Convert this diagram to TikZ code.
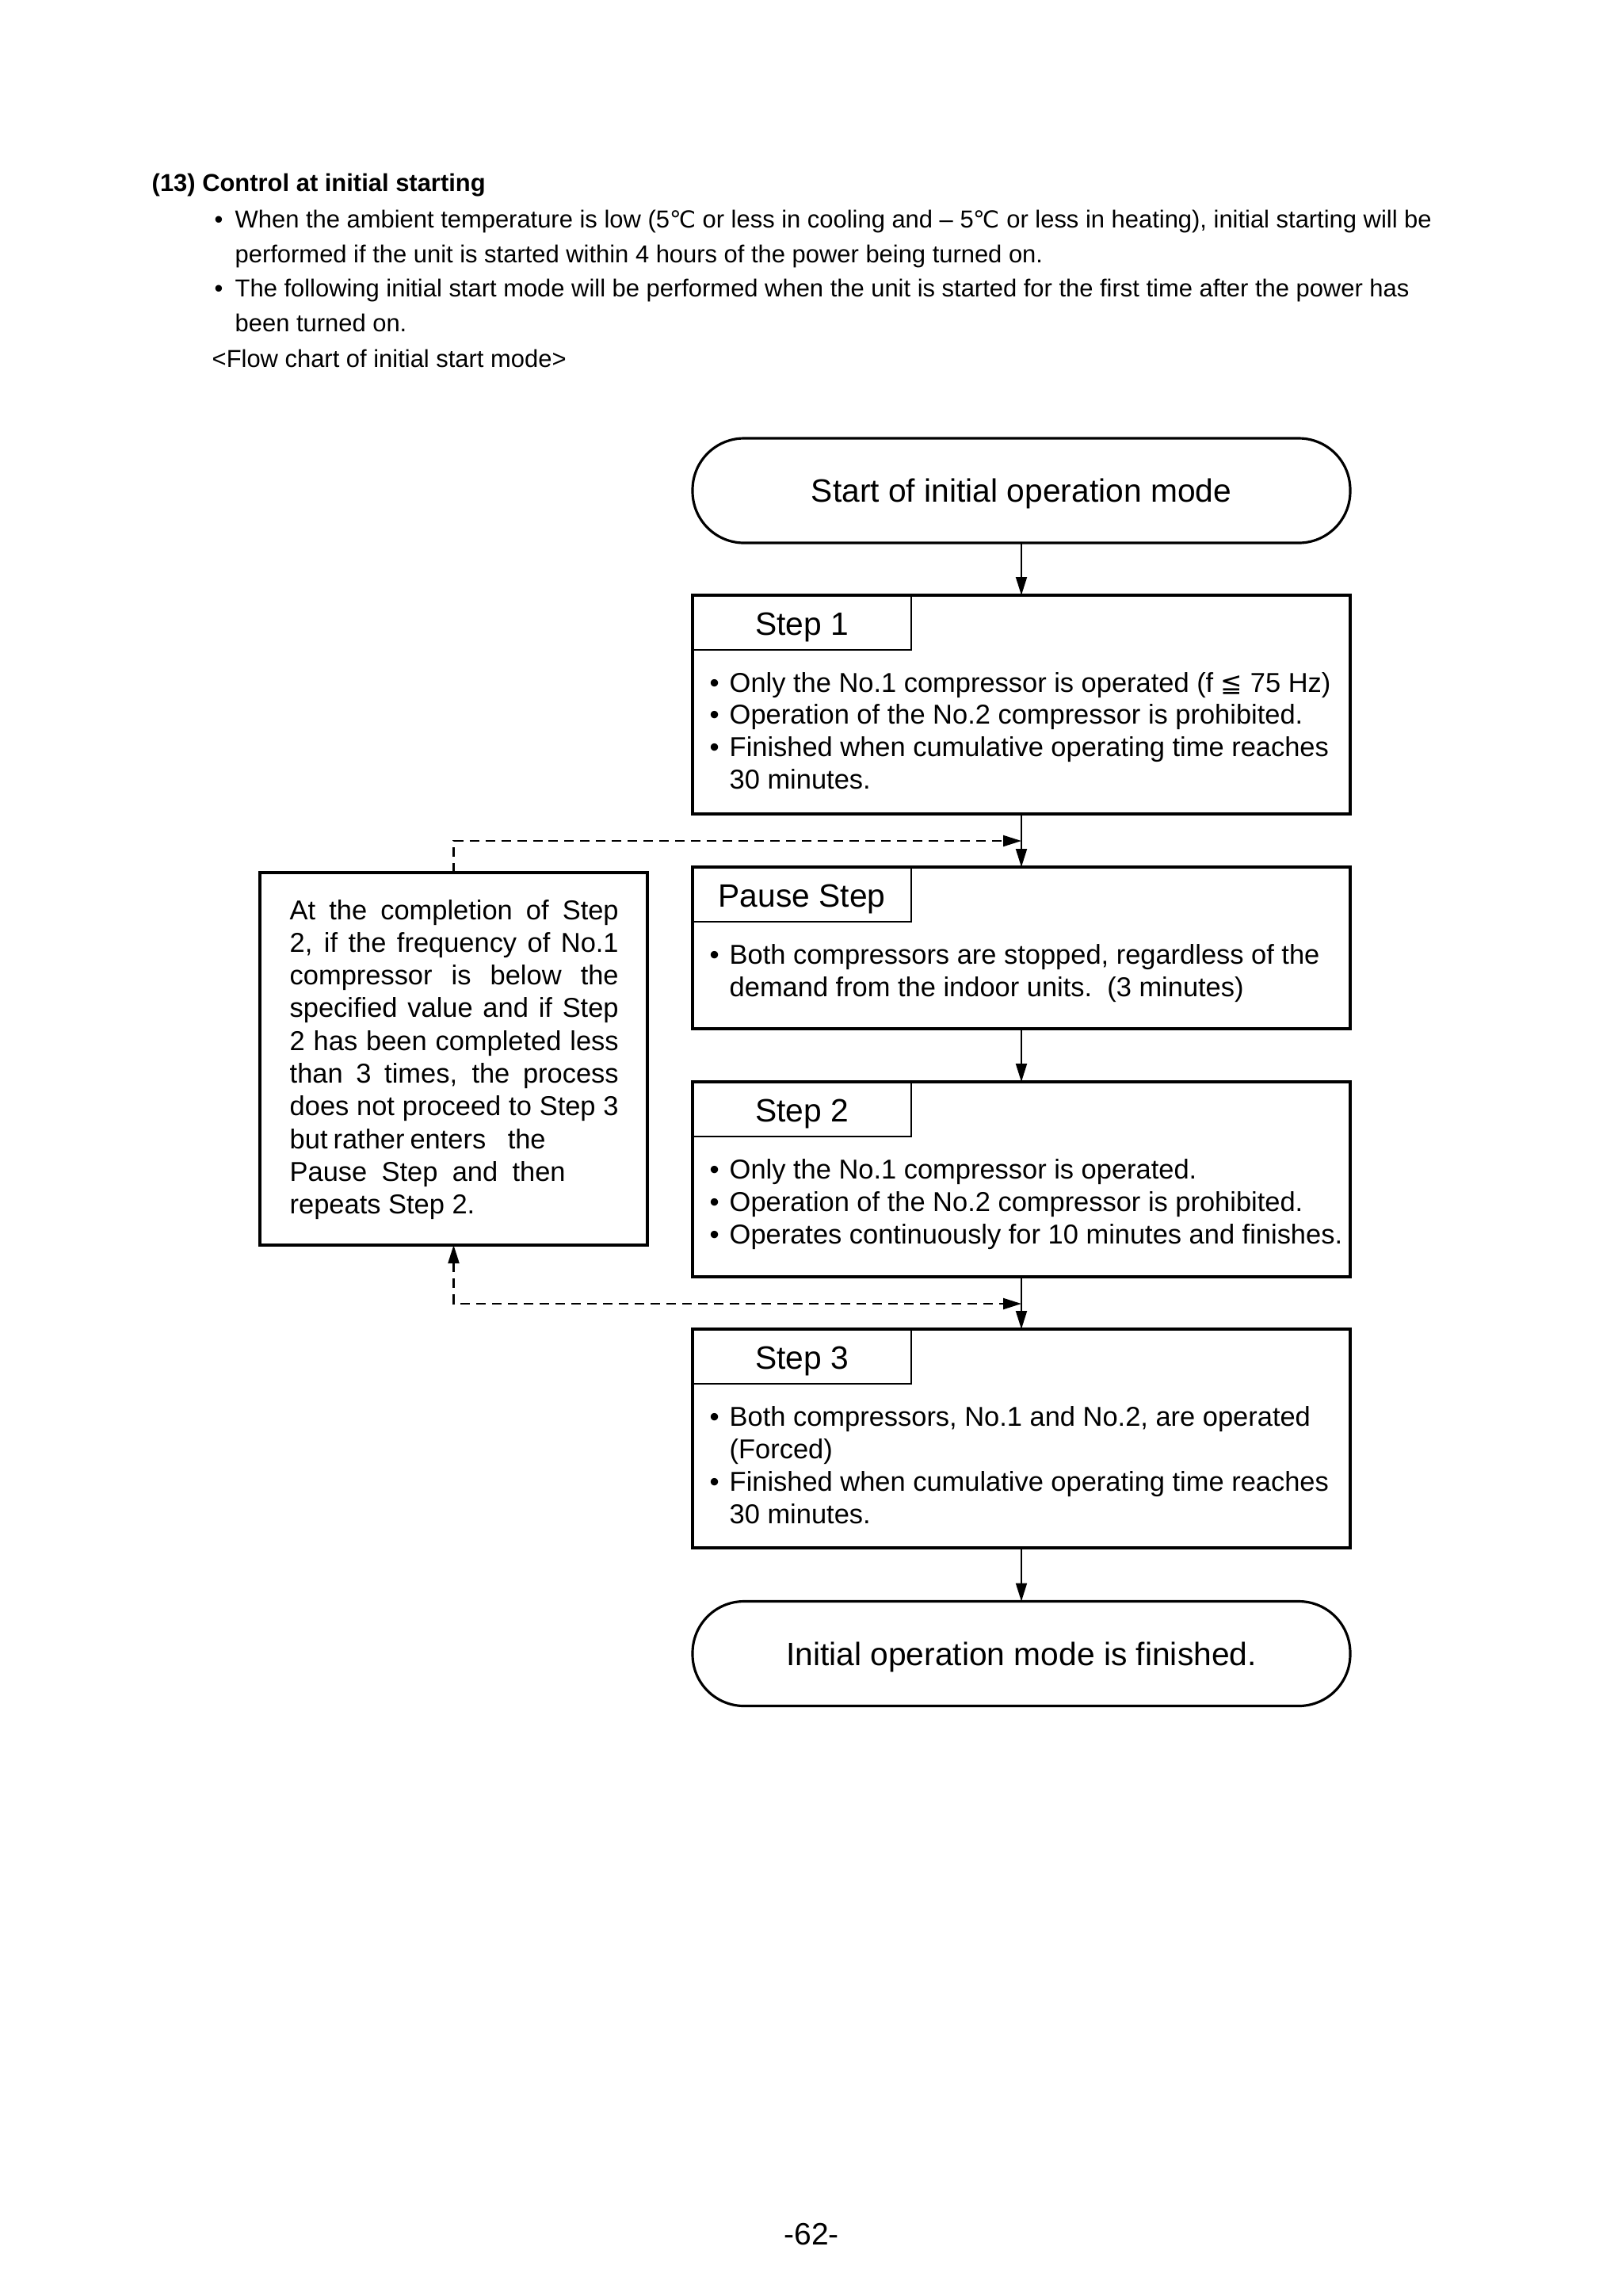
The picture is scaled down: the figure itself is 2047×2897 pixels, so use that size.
\documentclass[tikz,border=0pt]{standalone}
\usepackage{fontspec}
\setmainfont{Liberation Sans}
\newfontfamily\symf{DejaVu Sans}[Scale=0.95]
\usetikzlibrary{arrows.meta}
\begin{document}
\begin{tikzpicture}[x=0.1mm,y=-0.1mm,
  hdr/.style={font=\fontsize{8.8}{10}\selectfont, inner sep=0, anchor=base west},
  hdrb/.style={font=\fontsize{8.8}{10}\selectfont\bfseries, inner sep=0, anchor=base west},
  body/.style={font=\fontsize{9.8}{11}\selectfont, inner sep=0, anchor=base west},
  box/.style={draw, line width=0.9pt, minimum width=83mm, inner sep=0, outer sep=0},
  lab/.style={draw, line width=0.55pt, minimum width=27.6mm, minimum height=6.9mm, inner sep=0, outer sep=0,
    text height=3.1mm, text depth=0mm, font=\fontsize{11.6}{13}\selectfont, anchor=north west},
  term/.style={draw, line width=0.9pt, rounded corners=6.5mm, minimum width=83mm, minimum height=13.2mm,
    inner sep=0, outer sep=0, text height=2.9mm, text depth=0mm, font=\fontsize{11.6}{13}\selectfont},
  arr/.style={line width=0.55pt, -{Triangle[length=2.3mm,width=1.4mm]}},
  darr/.style={line width=0.6pt, dash pattern=on 1.2mm off 0.8mm},
  pg/.style={font=\fontsize{11.1}{13}\selectfont, inner sep=0, anchor=base}
]
\fill[white] (0,0) rectangle (2047,2897);
\useasboundingbox (0,0) rectangle (2047,2897);

\newcommand\bul[3]{\node[body] (#1b) at (895,#2) {•}; \node[body] (#1) at (920,#2) {#3};}
\newcommand\cont[3]{\node[body] (#1) at (920,#2) {#3};}

% header
\node[hdrb] (title) at (191,241) {(13) Control at initial starting};
\node[hdr] (h1b) at (270,287) {•};
\node[hdr] (h1) at (296,287) {When the ambient temperature is low (5{\symf ℃} or less in cooling and – 5{\symf ℃} or less in heating), initial starting will be};
\node[hdr] (h2) at (296,331) {performed if the unit is started within 4 hours of the power being turned on.};
\node[hdr] (h3b) at (270,374) {•};
\node[hdr] (h3) at (296,374) {The following initial start mode will be performed when the unit is started for the first time after the power has};
\node[hdr] (h4) at (296,418) {been turned on.};
\node[hdr] (h5) at (267,463) {<Flow chart of initial start mode>};

% flowchart boxes
\node[term] (t1) at (1289,619) {Start of initial operation mode};

\node[box, minimum height=27.6mm] (s1) at (1289,889) {};
\node[lab] (s1l) at (s1.north west) {Step 1};
\bul{s1a}{873}{Only the No.1 compressor is operated (f {\symf ≦} 75 Hz)}
\bul{s1c}{913.7}{Operation of the No.2 compressor is prohibited.}
\bul{s1d}{954.4}{Finished when cumulative operating time reaches}
\cont{s1e}{995.1}{30 minutes.}

\node[box, minimum height=20.4mm] (ps) at (1289,1196) {};
\node[lab] (psl) at (ps.north west) {Pause Step};
\bul{psa}{1216}{Both compressors are stopped, regardless of the}
\cont{psc}{1257}{demand from the indoor units.\ \ (3 minutes)}

\node[box, minimum height=24.6mm] (s2) at (1289,1488) {};
\node[lab] (s2l) at (s2.north west) {Step 2};
\bul{s2a}{1487}{Only the No.1 compressor is operated.}
\bul{s2c}{1528}{Operation of the No.2 compressor is prohibited.}
\bul{s2d}{1569}{Operates continuously for 10 minutes and finishes.}

\node[box, minimum height=27.6mm] (s3) at (1289,1815) {};
\node[lab] (s3l) at (s3.north west) {Step 3};
\bul{s3a}{1799}{Both compressors, No.1 and No.2, are operated}
\cont{s3c}{1840.2}{(Forced)}
\bul{s3d}{1881.4}{Finished when cumulative operating time reaches}
\cont{s3e}{1922.6}{30 minutes.}

\node[term] (t2) at (1289,2086.5) {Initial operation mode is finished.};

% left note box
\node[box, minimum width=48.9mm, minimum height=47mm] (lb) at (572.5,1336) {};
\node[body] (n1) at (365,1160) {\makebox[41.5mm][s]{At the completion of Step}};
\node[body] (n2) at (365,1201.3) {\makebox[41.5mm][s]{2, if the frequency of No.1}};
\node[body] (n3) at (365,1242.6) {\makebox[41.5mm][s]{compressor is below the}};
\node[body] (n4) at (365,1283.9) {\makebox[41.5mm][s]{specified value and if Step}};
\node[body] (n5) at (365,1325.2) {\makebox[41.5mm][s]{2 has been completed less}};
\node[body] (n6) at (365,1366.5) {\makebox[41.5mm][s]{than 3 times, the process}};
\node[body] (n7) at (365,1407.8) {\makebox[41.5mm][s]{does not proceed to Step 3}};
\node[body] (n8) at (365,1449.1) {\makebox[32.3mm][s]{but\kern0.7mm rather\kern0.7mm enters the}};
\node[body] (n9) at (365,1490.4) {\makebox[34.8mm][s]{Pause Step and then}};
\node[body] (n10) at (365,1531.7) {repeats Step 2.};

% connectors
\coordinate (j1) at (1289,1061);
\coordinate (j2) at (1289,1645);
\draw[arr] (t1.south) -- (s1.north);
\draw[arr] (s1.south) -- (ps.north);
\draw[arr] (ps.south) -- (s2.north);
\draw[arr] (s2.south) -- (s3.north);
\draw[arr] (s3.south) -- (t2.north);
\draw[darr, -{Triangle[length=2.3mm,width=1.4mm]}] (lb.north) |- (j1);
\draw[darr, {Triangle[length=2.3mm,width=1.4mm]}-{Triangle[length=2.3mm,width=1.4mm]}] (lb.south) |- (j2);

% page number
\node[pg] (pn) at (1024,2832) {-62-};
\end{tikzpicture}
\end{document}
